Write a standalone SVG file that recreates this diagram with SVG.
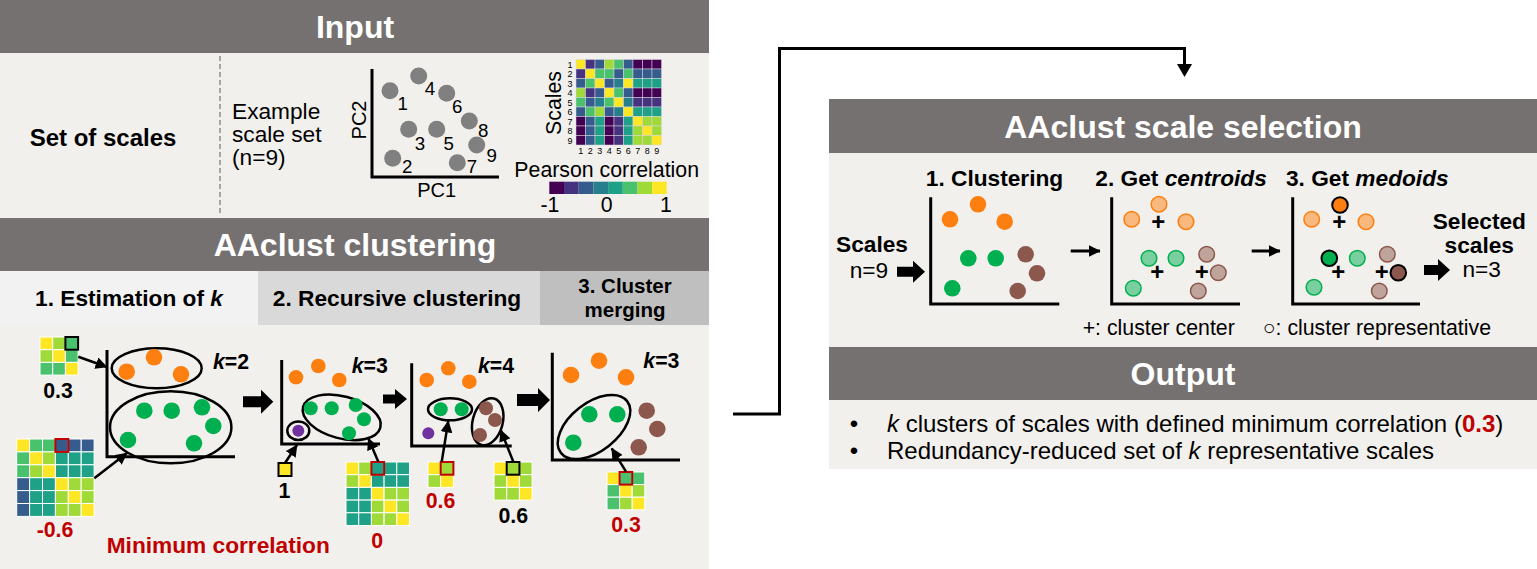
<svg xmlns="http://www.w3.org/2000/svg" width="1537" height="569" viewBox="0 0 1537 569">
<style>
text{font-family:"Liberation Sans",Arial,Helvetica,sans-serif;fill:#000}
.hdr{font-weight:bold;font-size:32px;fill:#fff;text-anchor:middle}
.b17{font-weight:bold;font-size:22.7px}
.r17{font-size:22.7px}
.b16{font-weight:bold;font-size:21.3px}
.r16{font-size:21.3px}
.r24{font-size:24px}
.d{font-size:18.7px;text-anchor:middle}
.sm{font-size:9px;text-anchor:middle}
.mid{text-anchor:middle}
.red{fill:#c00000}
.hb{fill:#767171}
.body{fill:#f2f0ec}
.ax{stroke:#000;stroke-width:3;fill:none}
.ell{fill:none;stroke:#000;stroke-width:2.5}
.gy{fill:#808080}
.or{fill:#fd7f0f}
.gr{fill:#00b050}
.br{fill:#8c574c}
.pu{fill:#7030a0}
.orf{fill:#fd7f0f;fill-opacity:.5;stroke:#fd7f0f;stroke-width:1.5}
.grf{fill:#00b050;fill-opacity:.5;stroke:#00b050;stroke-width:1.5}
.brf{fill:#8c574c;fill-opacity:.5;stroke:#8c574c;stroke-width:1.5}
.med{stroke:#000;stroke-width:2}
.c0{fill:#440154}.c1{fill:#46327e}.c2{fill:#365c8d}.c3{fill:#277f8e}.c4{fill:#1fa187}.c5{fill:#4ac16d}.c6{fill:#a0da39}.c7{fill:#fde725}
.hm rect{stroke:#d8d6e0;stroke-width:.5}
.hs rect{stroke:#fff;stroke-width:1}
.hlr{fill:none;stroke:#c00000;stroke-width:2}
.hlk{fill:none;stroke:#000;stroke-width:2}
.ln{stroke:#000;stroke-width:2.5;fill:none}
.plus{font-size:24px;font-weight:bold;text-anchor:middle}
</style>
<defs>
<marker id="ah" viewBox="0 0 10 10" refX="9.5" refY="5" markerWidth="12" markerHeight="12" markerUnits="userSpaceOnUse" orient="auto">
<path d="M0,0 L10,5 L0,10 z" fill="#000"/>
</marker>
</defs>

<!-- ================= INPUT ================= -->
<g id="input-panel">
<rect x="0" y="0" width="709" height="53" class="hb"/>
<text x="355" y="38" class="hdr">Input</text>
<rect x="0" y="53" width="709" height="165" class="body"/>
<line x1="220" y1="56" x2="220" y2="216" stroke="#a6a6a6" stroke-width="2" stroke-dasharray="5,3"/>
<text x="103" y="146" class="mid" style="font-weight:bold;font-size:24px">Set of scales</text>
<text x="232" y="119" class="r17">Example</text>
<text x="232" y="142" class="r17">scale set</text>
<text x="232" y="165" class="r17">(n=9)</text>
</g>

<g id="input-pca">
<path class="ax" d="M372,69 V177 H499"/>
<circle cx="390" cy="90.7" r="8.5" class="gy"/>
<circle cx="418.7" cy="76" r="8.5" class="gy"/>
<circle cx="446.7" cy="93.3" r="8.5" class="gy"/>
<circle cx="469.3" cy="121" r="8.5" class="gy"/>
<circle cx="408.7" cy="129.3" r="8.5" class="gy"/>
<circle cx="436.7" cy="129.3" r="8.5" class="gy"/>
<circle cx="476.7" cy="145" r="8.5" class="gy"/>
<circle cx="392.7" cy="158.3" r="8.5" class="gy"/>
<circle cx="457.3" cy="162.7" r="8.5" class="gy"/>
<text x="402.7" y="109.7" class="d">1</text>
<text x="430" y="94.7" class="d">4</text>
<text x="457.3" y="113.3" class="d">6</text>
<text x="483.3" y="136.7" class="d">8</text>
<text x="420" y="149.7" class="d">3</text>
<text x="448.7" y="149.7" class="d">5</text>
<text x="491.7" y="161.7" class="d">9</text>
<text x="407.3" y="173.3" class="d">2</text>
<text x="472" y="173.3" class="d">7</text>
<text x="436.7" y="196.7" class="mid" style="font-size:20px">PC1</text>
<text transform="translate(366,120) rotate(-90)" class="mid" style="font-size:20px">PC2</text>
</g>

<g id="input-heatmap">
<text transform="translate(561,103) rotate(-90)" class="r16 mid">Scales</text>
<g class="hm">
<rect x="576" y="59.5" width="9.5" height="9.5" class="c7"/><rect x="585.5" y="59.5" width="9.5" height="9.5" class="c1"/><rect x="595" y="59.5" width="9.5" height="9.5" class="c2"/><rect x="604.5" y="59.5" width="9.5" height="9.5" class="c6"/><rect x="614" y="59.5" width="9.5" height="9.5" class="c5"/><rect x="623.5" y="59.5" width="9.5" height="9.5" class="c2"/><rect x="633" y="59.5" width="9.5" height="9.5" class="c0"/><rect x="642.5" y="59.5" width="9.5" height="9.5" class="c0"/><rect x="652" y="59.5" width="9.5" height="9.5" class="c0"/>
<rect x="576" y="69" width="9.5" height="9.5" class="c1"/><rect x="585.5" y="69" width="9.5" height="9.5" class="c7"/><rect x="595" y="69" width="9.5" height="9.5" class="c5"/><rect x="604.5" y="69" width="9.5" height="9.5" class="c5"/><rect x="614" y="69" width="9.5" height="9.5" class="c2"/><rect x="623.5" y="69" width="9.5" height="9.5" class="c5"/><rect x="633" y="69" width="9.5" height="9.5" class="c2"/><rect x="642.5" y="69" width="9.5" height="9.5" class="c2"/><rect x="652" y="69" width="9.5" height="9.5" class="c2"/>
<rect x="576" y="78.5" width="9.5" height="9.5" class="c2"/><rect x="585.5" y="78.5" width="9.5" height="9.5" class="c5"/><rect x="595" y="78.5" width="9.5" height="9.5" class="c7"/><rect x="604.5" y="78.5" width="9.5" height="9.5" class="c2"/><rect x="614" y="78.5" width="9.5" height="9.5" class="c3"/><rect x="623.5" y="78.5" width="9.5" height="9.5" class="c7"/><rect x="633" y="78.5" width="9.5" height="9.5" class="c4"/><rect x="642.5" y="78.5" width="9.5" height="9.5" class="c4"/><rect x="652" y="78.5" width="9.5" height="9.5" class="c4"/>
<rect x="576" y="88" width="9.5" height="9.5" class="c6"/><rect x="585.5" y="88" width="9.5" height="9.5" class="c1"/><rect x="595" y="88" width="9.5" height="9.5" class="c2"/><rect x="604.5" y="88" width="9.5" height="9.5" class="c7"/><rect x="614" y="88" width="9.5" height="9.5" class="c5"/><rect x="623.5" y="88" width="9.5" height="9.5" class="c2"/><rect x="633" y="88" width="9.5" height="9.5" class="c0"/><rect x="642.5" y="88" width="9.5" height="9.5" class="c0"/><rect x="652" y="88" width="9.5" height="9.5" class="c0"/>
<rect x="576" y="97.5" width="9.5" height="9.5" class="c5"/><rect x="585.5" y="97.5" width="9.5" height="9.5" class="c2"/><rect x="595" y="97.5" width="9.5" height="9.5" class="c3"/><rect x="604.5" y="97.5" width="9.5" height="9.5" class="c5"/><rect x="614" y="97.5" width="9.5" height="9.5" class="c7"/><rect x="623.5" y="97.5" width="9.5" height="9.5" class="c3"/><rect x="633" y="97.5" width="9.5" height="9.5" class="c1"/><rect x="642.5" y="97.5" width="9.5" height="9.5" class="c1"/><rect x="652" y="97.5" width="9.5" height="9.5" class="c1"/>
<rect x="576" y="107" width="9.5" height="9.5" class="c2"/><rect x="585.5" y="107" width="9.5" height="9.5" class="c5"/><rect x="595" y="107" width="9.5" height="9.5" class="c6"/><rect x="604.5" y="107" width="9.5" height="9.5" class="c2"/><rect x="614" y="107" width="9.5" height="9.5" class="c3"/><rect x="623.5" y="107" width="9.5" height="9.5" class="c7"/><rect x="633" y="107" width="9.5" height="9.5" class="c4"/><rect x="642.5" y="107" width="9.5" height="9.5" class="c4"/><rect x="652" y="107" width="9.5" height="9.5" class="c4"/>
<rect x="576" y="116.5" width="9.5" height="9.5" class="c0"/><rect x="585.5" y="116.5" width="9.5" height="9.5" class="c2"/><rect x="595" y="116.5" width="9.5" height="9.5" class="c4"/><rect x="604.5" y="116.5" width="9.5" height="9.5" class="c0"/><rect x="614" y="116.5" width="9.5" height="9.5" class="c1"/><rect x="623.5" y="116.5" width="9.5" height="9.5" class="c4"/><rect x="633" y="116.5" width="9.5" height="9.5" class="c7"/><rect x="642.5" y="116.5" width="9.5" height="9.5" class="c6"/><rect x="652" y="116.5" width="9.5" height="9.5" class="c6"/>
<rect x="576" y="126" width="9.5" height="9.5" class="c0"/><rect x="585.5" y="126" width="9.5" height="9.5" class="c2"/><rect x="595" y="126" width="9.5" height="9.5" class="c4"/><rect x="604.5" y="126" width="9.5" height="9.5" class="c0"/><rect x="614" y="126" width="9.5" height="9.5" class="c1"/><rect x="623.5" y="126" width="9.5" height="9.5" class="c4"/><rect x="633" y="126" width="9.5" height="9.5" class="c6"/><rect x="642.5" y="126" width="9.5" height="9.5" class="c7"/><rect x="652" y="126" width="9.5" height="9.5" class="c6"/>
<rect x="576" y="135.5" width="9.5" height="9.5" class="c0"/><rect x="585.5" y="135.5" width="9.5" height="9.5" class="c2"/><rect x="595" y="135.5" width="9.5" height="9.5" class="c4"/><rect x="604.5" y="135.5" width="9.5" height="9.5" class="c0"/><rect x="614" y="135.5" width="9.5" height="9.5" class="c1"/><rect x="623.5" y="135.5" width="9.5" height="9.5" class="c4"/><rect x="633" y="135.5" width="9.5" height="9.5" class="c6"/><rect x="642.5" y="135.5" width="9.5" height="9.5" class="c6"/><rect x="652" y="135.5" width="9.5" height="9.5" class="c7"/>
</g>
<g>
<text x="570" y="67.5" class="sm">1</text><text x="570" y="77" class="sm">2</text><text x="570" y="86.5" class="sm">3</text><text x="570" y="96" class="sm">4</text><text x="570" y="105.5" class="sm">5</text><text x="570" y="115" class="sm">6</text><text x="570" y="124.5" class="sm">7</text><text x="570" y="134" class="sm">8</text><text x="570" y="143.5" class="sm">9</text>
<text x="580.75" y="154" class="sm">1</text><text x="590.25" y="154" class="sm">2</text><text x="599.75" y="154" class="sm">3</text><text x="609.25" y="154" class="sm">4</text><text x="618.75" y="154" class="sm">5</text><text x="628.25" y="154" class="sm">6</text><text x="637.75" y="154" class="sm">7</text><text x="647.25" y="154" class="sm">8</text><text x="656.75" y="154" class="sm">9</text>
</g>
<text x="606.7" y="177" class="r16 mid">Pearson correlation</text>
<rect x="549.3" y="181.7" width="14.7" height="12.3" class="c0"/>
<rect x="564" y="181.7" width="14.7" height="12.3" class="c1"/>
<rect x="578.7" y="181.7" width="14.7" height="12.3" class="c2"/>
<rect x="593.4" y="181.7" width="14.7" height="12.3" class="c3"/>
<rect x="608.1" y="181.7" width="14.7" height="12.3" class="c4"/>
<rect x="622.8" y="181.7" width="14.7" height="12.3" class="c5"/>
<rect x="637.5" y="181.7" width="14.7" height="12.3" class="c6"/>
<rect x="652.2" y="181.7" width="14.5" height="12.3" class="c7"/>
<text x="550" y="211.7" class="r16 mid">-1</text>
<text x="606.7" y="211.7" class="r16 mid">0</text>
<text x="666" y="211.7" class="r16 mid">1</text>
</g>

<!-- ================= CLUSTERING ================= -->
<g id="clustering-panel">
<rect x="0" y="218" width="709" height="53" class="hb"/>
<text x="355" y="256" class="hdr">AAclust clustering</text>
<rect x="0" y="271" width="258" height="54" fill="#f2f2f2"/>
<rect x="258" y="271" width="282" height="54" fill="#d9d9d9"/>
<rect x="540" y="271" width="169" height="54" fill="#bfbfbf"/>
<text x="129" y="306" class="b17 mid">1. Estimation of <tspan font-style="italic">k</tspan></text>
<text x="397" y="306" class="b17 mid">2. Recursive clustering</text>
<text x="625" y="293" class="mid" style="font-weight:bold;font-size:20.5px">3. Cluster</text>
<text x="625" y="317" class="mid" style="font-weight:bold;font-size:20.5px">merging</text>
<rect x="0" y="325" width="709" height="244" class="body"/>
<text x="106.7" y="553.3" class="b17 red">Minimum correlation</text>
</g>

<g id="step1-estimation">
<path class="ax" d="M107,350 V456.7 H235"/>
<ellipse cx="156.7" cy="368.3" rx="45" ry="20" class="ell"/>
<circle cx="154" cy="357.3" r="8.3" class="or"/>
<circle cx="126.7" cy="371.7" r="8.3" class="or"/>
<circle cx="181" cy="374.3" r="8.3" class="or"/>
<ellipse cx="170.7" cy="427.3" rx="60.7" ry="36" class="ell"/>
<circle cx="144.3" cy="410.7" r="8.3" class="gr"/>
<circle cx="171.7" cy="410.7" r="8.3" class="gr"/>
<circle cx="202" cy="407.3" r="8.3" class="gr"/>
<circle cx="213.3" cy="426" r="8.3" class="gr"/>
<circle cx="128" cy="440" r="8.3" class="gr"/>
<circle cx="194" cy="443.3" r="8.3" class="gr"/>
<text x="213" y="369.3" class="b16"><tspan font-style="italic">k</tspan>=2</text>
<g class="hs">
<rect x="40" y="337" width="12.7" height="12.7" class="c7"/><rect x="52.7" y="337" width="12.7" height="12.7" class="c6"/><rect x="65.4" y="337" width="12.7" height="12.7" class="c5"/>
<rect x="40" y="349.7" width="12.7" height="12.7" class="c6"/><rect x="52.7" y="349.7" width="12.7" height="12.7" class="c7"/><rect x="65.4" y="349.7" width="12.7" height="12.7" class="c5"/>
<rect x="40" y="362.4" width="12.7" height="12.7" class="c5"/><rect x="52.7" y="362.4" width="12.7" height="12.7" class="c5"/><rect x="65.4" y="362.4" width="12.7" height="12.7" class="c7"/>
</g>
<rect x="65.4" y="337" width="12.7" height="12.7" class="hlk"/>
<text x="58" y="398.3" class="b16 mid">0.3</text>
<g class="hs">
<rect x="16.7" y="439" width="12.9" height="12.9" class="c7"/><rect x="29.6" y="439" width="12.9" height="12.9" class="c5"/><rect x="42.5" y="439" width="12.9" height="12.9" class="c5"/><rect x="55.4" y="439" width="12.9" height="12.9" class="c2"/><rect x="68.3" y="439" width="12.9" height="12.9" class="c2"/><rect x="81.2" y="439" width="12.9" height="12.9" class="c2"/>
<rect x="16.7" y="451.9" width="12.9" height="12.9" class="c5"/><rect x="29.6" y="451.9" width="12.9" height="12.9" class="c7"/><rect x="42.5" y="451.9" width="12.9" height="12.9" class="c6"/><rect x="55.4" y="451.9" width="12.9" height="12.9" class="c4"/><rect x="68.3" y="451.9" width="12.9" height="12.9" class="c4"/><rect x="81.2" y="451.9" width="12.9" height="12.9" class="c4"/>
<rect x="16.7" y="464.8" width="12.9" height="12.9" class="c5"/><rect x="29.6" y="464.8" width="12.9" height="12.9" class="c6"/><rect x="42.5" y="464.8" width="12.9" height="12.9" class="c7"/><rect x="55.4" y="464.8" width="12.9" height="12.9" class="c4"/><rect x="68.3" y="464.8" width="12.9" height="12.9" class="c4"/><rect x="81.2" y="464.8" width="12.9" height="12.9" class="c4"/>
<rect x="16.7" y="477.7" width="12.9" height="12.9" class="c2"/><rect x="29.6" y="477.7" width="12.9" height="12.9" class="c4"/><rect x="42.5" y="477.7" width="12.9" height="12.9" class="c4"/><rect x="55.4" y="477.7" width="12.9" height="12.9" class="c7"/><rect x="68.3" y="477.7" width="12.9" height="12.9" class="c6"/><rect x="81.2" y="477.7" width="12.9" height="12.9" class="c6"/>
<rect x="16.7" y="490.6" width="12.9" height="12.9" class="c2"/><rect x="29.6" y="490.6" width="12.9" height="12.9" class="c4"/><rect x="42.5" y="490.6" width="12.9" height="12.9" class="c4"/><rect x="55.4" y="490.6" width="12.9" height="12.9" class="c6"/><rect x="68.3" y="490.6" width="12.9" height="12.9" class="c7"/><rect x="81.2" y="490.6" width="12.9" height="12.9" class="c6"/>
<rect x="16.7" y="503.5" width="12.9" height="12.9" class="c2"/><rect x="29.6" y="503.5" width="12.9" height="12.9" class="c4"/><rect x="42.5" y="503.5" width="12.9" height="12.9" class="c4"/><rect x="55.4" y="503.5" width="12.9" height="12.9" class="c6"/><rect x="68.3" y="503.5" width="12.9" height="12.9" class="c6"/><rect x="81.2" y="503.5" width="12.9" height="12.9" class="c7"/>
</g>
<rect x="55.4" y="439" width="12.9" height="12.9" class="hlr"/>
<text x="55" y="536.7" class="b16 mid red">-0.6</text>
</g>

<g id="step2-recursive">
<path class="ax" d="M281.7,360 V444 H380"/>
<circle cx="296" cy="377.3" r="7.3" class="or"/>
<circle cx="318.3" cy="366" r="7.3" class="or"/>
<circle cx="339.3" cy="380" r="7.3" class="or"/>
<ellipse cx="341.7" cy="417.3" rx="40" ry="21" transform="rotate(15 341.7 417.3)" class="ell"/>
<circle cx="310.7" cy="408.3" r="7" class="gr"/>
<circle cx="331.7" cy="408.3" r="7" class="gr"/>
<circle cx="355.7" cy="405" r="7" class="gr"/>
<circle cx="364" cy="419.3" r="7" class="gr"/>
<circle cx="349" cy="433.3" r="7" class="gr"/>
<ellipse cx="298.3" cy="430.7" rx="11" ry="9.3" class="ell"/>
<circle cx="298.3" cy="430.7" r="6" class="pu"/>
<text x="351.7" y="373" class="b16"><tspan font-style="italic">k</tspan>=3</text>
<rect x="278.5" y="463" width="13" height="13" class="c7" stroke="#000" stroke-width="2"/>
<text x="284.5" y="498.3" class="b16 mid">1</text>
<g class="hs">
<rect x="346" y="462" width="12.7" height="12.7" class="c7"/><rect x="358.7" y="462" width="12.7" height="12.7" class="c6"/><rect x="371.4" y="462" width="12.7" height="12.7" class="c4"/><rect x="384.1" y="462" width="12.7" height="12.7" class="c4"/><rect x="396.8" y="462" width="12.7" height="12.7" class="c4"/>
<rect x="346" y="474.7" width="12.7" height="12.7" class="c6"/><rect x="358.7" y="474.7" width="12.7" height="12.7" class="c7"/><rect x="371.4" y="474.7" width="12.7" height="12.7" class="c4"/><rect x="384.1" y="474.7" width="12.7" height="12.7" class="c4"/><rect x="396.8" y="474.7" width="12.7" height="12.7" class="c4"/>
<rect x="346" y="487.4" width="12.7" height="12.7" class="c4"/><rect x="358.7" y="487.4" width="12.7" height="12.7" class="c4"/><rect x="371.4" y="487.4" width="12.7" height="12.7" class="c7"/><rect x="384.1" y="487.4" width="12.7" height="12.7" class="c6"/><rect x="396.8" y="487.4" width="12.7" height="12.7" class="c6"/>
<rect x="346" y="500.1" width="12.7" height="12.7" class="c4"/><rect x="358.7" y="500.1" width="12.7" height="12.7" class="c4"/><rect x="371.4" y="500.1" width="12.7" height="12.7" class="c6"/><rect x="384.1" y="500.1" width="12.7" height="12.7" class="c7"/><rect x="396.8" y="500.1" width="12.7" height="12.7" class="c6"/>
<rect x="346" y="512.8" width="12.7" height="12.7" class="c4"/><rect x="358.7" y="512.8" width="12.7" height="12.7" class="c4"/><rect x="371.4" y="512.8" width="12.7" height="12.7" class="c6"/><rect x="384.1" y="512.8" width="12.7" height="12.7" class="c6"/><rect x="396.8" y="512.8" width="12.7" height="12.7" class="c7"/>
</g>
<rect x="371.4" y="462" width="12.7" height="12.7" class="hlr"/>
<text x="377.3" y="548.3" class="b16 mid red">0</text>
</g>

<g id="step2-recursive-k4">
<path class="ax" d="M411.7,363.3 V446 H511.7"/>
<circle cx="426.7" cy="380" r="7.3" class="or"/>
<circle cx="448.3" cy="368.3" r="7.3" class="or"/>
<circle cx="469.3" cy="381.7" r="7.3" class="or"/>
<ellipse cx="450" cy="409.3" rx="22" ry="11" class="ell"/>
<circle cx="440.7" cy="409.3" r="7" class="gr"/>
<circle cx="461.7" cy="409.3" r="7" class="gr"/>
<circle cx="428.3" cy="433.3" r="6" class="pu"/>
<ellipse cx="487.7" cy="421.7" rx="15" ry="24" transform="rotate(15 487.7 421.7)" class="ell"/>
<circle cx="486" cy="408.3" r="7" class="br"/>
<circle cx="495" cy="420" r="7" class="br"/>
<circle cx="480" cy="435" r="7" class="br"/>
<text x="478" y="373" class="b16"><tspan font-style="italic">k</tspan>=4</text>
<g class="hs">
<rect x="428" y="462" width="12.7" height="12.7" class="c7"/><rect x="440.7" y="462" width="12.7" height="12.7" class="c6"/>
<rect x="428" y="474.7" width="12.7" height="12.7" class="c6"/><rect x="440.7" y="474.7" width="12.7" height="12.7" class="c7"/>
</g>
<rect x="440.7" y="462" width="12.7" height="12.7" class="hlr"/>
<text x="440.5" y="508.3" class="b16 mid red">0.6</text>
<g class="hs">
<rect x="494" y="462" width="12.7" height="12.7" class="c7"/><rect x="506.7" y="462" width="12.7" height="12.7" class="c6"/><rect x="519.4" y="462" width="12.7" height="12.7" class="c6"/>
<rect x="494" y="474.7" width="12.7" height="12.7" class="c6"/><rect x="506.7" y="474.7" width="12.7" height="12.7" class="c7"/><rect x="519.4" y="474.7" width="12.7" height="12.7" class="c6"/>
<rect x="494" y="487.4" width="12.7" height="12.7" class="c6"/><rect x="506.7" y="487.4" width="12.7" height="12.7" class="c6"/><rect x="519.4" y="487.4" width="12.7" height="12.7" class="c7"/>
</g>
<rect x="506.7" y="462" width="12.7" height="12.7" class="hlk"/>
<text x="513.3" y="523.3" class="b16 mid">0.6</text>
</g>

<g id="step3-merging">
<path class="ax" d="M552.3,352.7 V460 H680"/>
<circle cx="571" cy="375" r="8.3" class="or"/>
<circle cx="599" cy="360.7" r="8.3" class="or"/>
<circle cx="626" cy="377.3" r="8.3" class="or"/>
<ellipse cx="594" cy="427" rx="42" ry="24" transform="rotate(-38 594 427)" class="ell"/>
<circle cx="589.3" cy="414.3" r="8.3" class="gr"/>
<circle cx="617.3" cy="414.3" r="8.3" class="gr"/>
<circle cx="573.3" cy="442.7" r="8.3" class="gr"/>
<circle cx="646.7" cy="410.7" r="8.3" class="br"/>
<circle cx="657.3" cy="429" r="8.3" class="br"/>
<circle cx="638.7" cy="447.3" r="8.3" class="br"/>
<text x="643.3" y="368.3" class="b16"><tspan font-style="italic">k</tspan>=3</text>
<g class="hs">
<rect x="607" y="472" width="12.6" height="12.6" class="c7"/><rect x="619.6" y="472" width="12.6" height="12.6" class="c5"/><rect x="632.2" y="472" width="12.6" height="12.6" class="c5"/>
<rect x="607" y="484.6" width="12.6" height="12.6" class="c5"/><rect x="619.6" y="484.6" width="12.6" height="12.6" class="c7"/><rect x="632.2" y="484.6" width="12.6" height="12.6" class="c6"/>
<rect x="607" y="497.2" width="12.6" height="12.6" class="c5"/><rect x="619.6" y="497.2" width="12.6" height="12.6" class="c6"/><rect x="632.2" y="497.2" width="12.6" height="12.6" class="c7"/>
</g>
<rect x="619.6" y="472" width="12.6" height="12.6" class="hlr"/>
<text x="626" y="531.7" class="b16 mid red">0.3</text>
</g>

<!-- ================= SCALE SELECTION ================= -->
<g id="selection-panel">
<rect x="829" y="99" width="708" height="54" class="hb"/>
<text x="1183" y="137.5" class="hdr">AAclust scale selection</text>
<rect x="829" y="153" width="708" height="194" class="body"/>
<text x="994.5" y="186" class="b17 mid">1. Clustering</text>
<text x="1095.3" y="186" class="b17">2. Get <tspan font-style="italic">centroids</tspan></text>
<text x="1286" y="186" class="b17">3. Get <tspan font-style="italic">medoids</tspan></text>
<text x="872" y="252" class="b17 mid">Scales</text>
<text x="869" y="278" class="r17 mid">n=9</text>
<text x="1479.3" y="229" class="b17 mid">Selected</text>
<text x="1479.3" y="252.7" class="b17 mid">scales</text>
<text x="1481.7" y="277.3" class="r17 mid">n=3</text>
<text x="1082.7" y="335" class="r16">+: cluster center</text>
<text x="1262.7" y="335" class="r16">○: cluster representative</text>
</g>

<g id="sel-clustering">
<path class="ax" d="M930.7,197.3 V304 H1059.3"/>
<circle cx="950" cy="219.3" r="8.3" class="or"/>
<circle cx="978" cy="204.3" r="8.3" class="or"/>
<circle cx="1004.7" cy="221.7" r="8.3" class="or"/>
<circle cx="968.3" cy="258.3" r="8.3" class="gr"/>
<circle cx="995.7" cy="258.3" r="8.3" class="gr"/>
<circle cx="952.3" cy="288.3" r="8.3" class="gr"/>
<circle cx="1025.7" cy="254.3" r="8.3" class="br"/>
<circle cx="1037" cy="273.3" r="8.3" class="br"/>
<circle cx="1017.7" cy="291" r="8.3" class="br"/>
</g>

<g id="sel-centroids">
<path class="ax" d="M1111.7,197.3 V304 H1240"/>
<circle cx="1131.7" cy="219.3" r="7.8" class="orf"/>
<circle cx="1159" cy="204.3" r="7.8" class="orf"/>
<circle cx="1186" cy="221.7" r="7.8" class="orf"/>
<circle cx="1149" cy="258.3" r="7.8" class="grf"/>
<circle cx="1176" cy="258.3" r="7.8" class="grf"/>
<circle cx="1133.3" cy="288.3" r="7.8" class="grf"/>
<circle cx="1206.7" cy="254.3" r="7.8" class="brf"/>
<circle cx="1218.3" cy="272.7" r="7.8" class="brf"/>
<circle cx="1198.3" cy="291" r="7.8" class="brf"/>
<text x="1158.3" y="230" class="plus">+</text>
<text x="1157.3" y="280" class="plus">+</text>
<text x="1201.7" y="280" class="plus">+</text>
</g>

<g id="sel-medoids">
<path class="ax" d="M1292.7,197.3 V304 H1420"/>
<circle cx="1311.7" cy="219.3" r="7.8" class="orf"/>
<circle cx="1340" cy="205" r="7.8" class="or med"/>
<circle cx="1366" cy="221.7" r="7.8" class="orf"/>
<circle cx="1329.3" cy="258.3" r="7.8" class="gr med"/>
<circle cx="1357.3" cy="258.3" r="7.8" class="grf"/>
<circle cx="1314" cy="287.3" r="7.8" class="grf"/>
<circle cx="1387.3" cy="254.3" r="7.8" class="brf"/>
<circle cx="1398.3" cy="272.7" r="7.8" class="br med"/>
<circle cx="1379.3" cy="291" r="7.8" class="brf"/>
<text x="1339.3" y="230" class="plus">+</text>
<text x="1338.3" y="279.5" class="plus">+</text>
<text x="1381.7" y="279.5" class="plus">+</text>
</g>

<!-- ================= OUTPUT ================= -->
<g id="output-panel">
<rect x="829" y="347" width="708" height="53" class="hb"/>
<text x="1183" y="385" class="hdr">Output</text>
<rect x="829" y="400" width="708" height="69" class="body"/>
<text x="854" y="432" class="r24 mid">•</text>
<text x="887" y="432" class="r24"><tspan font-style="italic">k</tspan> clusters of scales with defined minimum correlation (<tspan class="red" font-weight="bold">0.3</tspan>)</text>
<text x="854" y="459" class="r24 mid">•</text>
<text x="887" y="459" class="r24">Redundancy-reduced set of <tspan font-style="italic">k</tspan> representative scales</text>
</g>

<!-- ================= CONNECTORS ================= -->
<g id="connectors">
<path d="M733,414 H779.5 V48.5 H1184.5 V65" fill="none" stroke="#000" stroke-width="3"/>
<path d="M1177,64 H1192 L1184.5,77 Z" fill="#000"/>
<line x1="78.3" y1="356.7" x2="107" y2="367" class="ln" marker-end="url(#ah)"/>
<line x1="94.3" y1="478.3" x2="127" y2="453" class="ln" marker-end="url(#ah)"/>
<line x1="285" y1="463" x2="297" y2="445" class="ln" marker-end="url(#ah)"/>
<line x1="378.3" y1="461.7" x2="368.3" y2="438.3" class="ln" marker-end="url(#ah)"/>
<line x1="441.7" y1="461.7" x2="448.3" y2="421" class="ln" marker-end="url(#ah)"/>
<line x1="513.3" y1="461.7" x2="500.7" y2="430" class="ln" marker-end="url(#ah)"/>
<line x1="626" y1="471.7" x2="611.7" y2="448.3" class="ln" marker-end="url(#ah)"/>
<polygon points="243,396.2 261,396.2 261,389.7 273.3,401.7 261,413.7 261,407.2 243,407.2" fill="#000"/>
<polygon points="383,394.5 395,394.5 395,389 407,399 395,409 395,403.5 383,403.5" fill="#000"/>
<polygon points="517,394 538,394 538,388 550,400 538,412 538,406 517,406" fill="#000"/>
<polygon points="897,266.7 913,266.7 913,260.7 925,271.7 913,282.7 913,276.7 897,276.7" fill="#000"/>
<polygon points="1424,265 1438,265 1438,259 1450,270 1438,281 1438,275 1424,275" fill="#000"/>
<line x1="1070.7" y1="251" x2="1100" y2="251" stroke="#000" stroke-width="3" marker-end="url(#ah)"/>
<line x1="1251.7" y1="251" x2="1280" y2="251" stroke="#000" stroke-width="3" marker-end="url(#ah)"/>
</g>
</svg>
